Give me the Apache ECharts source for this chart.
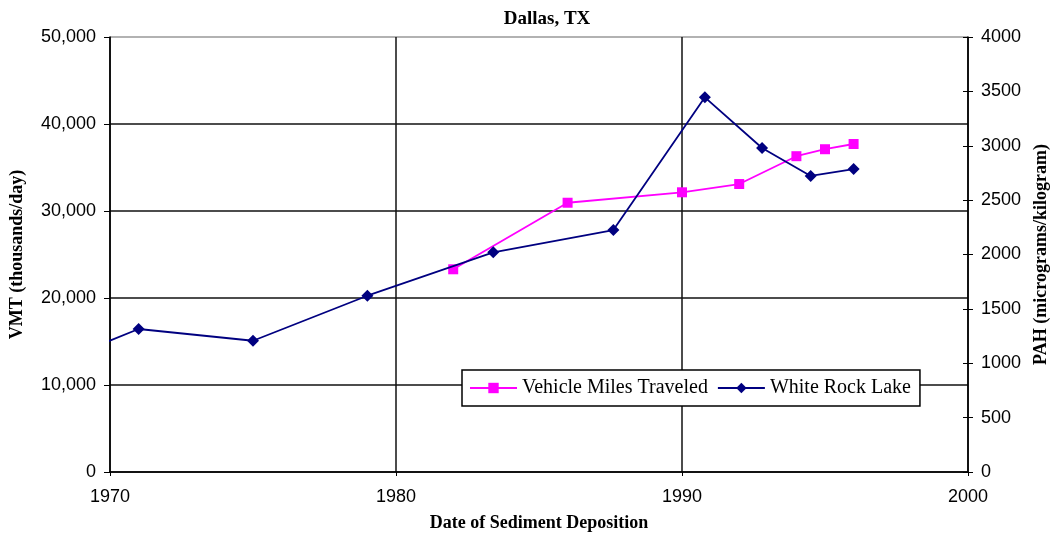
<!DOCTYPE html>
<html>
<head>
<meta charset="utf-8">
<script src="https://cdn.jsdelivr.net/npm/echarts@6/dist/echarts.min.js"></script>
<style>
html,body{margin:0;padding:0;background:#fff;}
#c{width:1051px;height:538px;}
</style>
</head>
<body>
<div id="c"></div>
<script>
var xTicks = [1970, 1980, 1990, 2000];
var vmtYears = [1982, 1986, 1990, 1992, 1994, 1995, 1996];
var vmtValues = [23300, 30950, 32150, 33100, 36300, 37100, 37700];
var pahYears = [1969, 1971, 1975, 1979, 1983.4, 1987.6, 1990.8, 1992.8, 1994.5, 1996];
var pahValues = [1100, 1315, 1207, 1621, 2020, 2225, 3445, 2979, 2722, 2786];

function pairs(xs, ys) { return xs.map(function (x, i) { return [x, ys[i]]; }); }

var sans = 'Liberation Sans';
var serif = 'Liberation Serif';
var chart = echarts.init(document.getElementById('c'));
chart.setOption({
  animation: false,
  backgroundColor: '#fff',
  title: {
    text: 'Dallas, TX',
    left: 542, top: 5, textAlign: 'center',
    textStyle: { fontFamily: serif, fontWeight: 'bold', fontSize: 19, color: '#000' }
  },
  grid: { left: 110, right: 83, top: 37, bottom: 66, containLabel: false, outerBoundsMode: 'none' },
  legend: {
    left: 462, top: 370,
    padding: [8, 9, 8, 7],
    itemWidth: 47, itemHeight: 13, itemGap: 9,
    borderColor: '#000', borderWidth: 1.5,
    backgroundColor: '#fff',
    textStyle: { fontFamily: serif, fontSize: 20, color: '#000' },
    data: ['Vehicle Miles Traveled', 'White Rock Lake']
  },
  xAxis: {
    type: 'value', min: 1970, max: 2000, interval: 10,
    name: 'Date of Sediment Deposition', nameLocation: 'middle', nameGap: 42,
    nameTextStyle: { fontFamily: serif, fontWeight: 'bold', fontSize: 18, color: '#000' },
    axisLine: { show: true, lineStyle: { color: '#000', width: 1.5 } },
    axisTick: { show: true, length: 4, lineStyle: { color: '#000' } },
    axisLabel: { margin: 16, fontFamily: sans, fontSize: 18, color: '#000',
      formatter: function (v) { return xTicks.indexOf(v) >= 0 ? String(v) : ''; } },
    splitLine: { show: true, lineStyle: { color: '#111', width: 1.5 } }
  },
  yAxis: [
    {
      type: 'value', min: 0, max: 50000, interval: 10000, position: 'left',
      name: 'VMT (thousands/day)', nameLocation: 'middle', nameGap: 84, nameRotate: 90,
      nameTextStyle: { fontFamily: serif, fontWeight: 'bold', fontSize: 18, color: '#000' },
      axisLine: { show: true, lineStyle: { color: '#000', width: 1.5 } },
      axisTick: { show: true, length: 6, lineStyle: { color: '#000' } },
      axisLabel: { margin: 14, fontFamily: sans, fontSize: 18, color: '#000',
        formatter: function (v) { return v.toLocaleString('en-US'); } },
      splitLine: { show: true, lineStyle: { color: ['#111', '#111', '#111', '#111', '#111', '#999'], width: 1.5 } }
    },
    {
      type: 'value', min: 0, max: 4000, interval: 500, position: 'right',
      name: 'PAH (micrograms/kilogram)', nameLocation: 'middle', nameGap: 64, nameRotate: 90,
      nameTextStyle: { fontFamily: serif, fontWeight: 'bold', fontSize: 18, color: '#000' },
      axisLine: { show: true, lineStyle: { color: '#000', width: 1.5 } },
      axisTick: { show: true, length: 5, lineStyle: { color: '#000' } },
      axisLabel: { margin: 13, fontFamily: sans, fontSize: 18, color: '#000',
        formatter: function (v) { return String(v); } },
      splitLine: { show: false }
    },
    {
      type: 'value', min: 0, max: 4000, interval: 500, position: 'right',
      axisLine: { show: false },
      axisTick: { show: true, inside: true, length: 5, lineStyle: { color: '#000' } },
      axisLabel: { show: false },
      splitLine: { show: false }
    }
  ],
  series: [
    {
      name: 'Vehicle Miles Traveled', type: 'line', yAxisIndex: 0,
      data: pairs(vmtYears, vmtValues),
      symbol: 'rect', symbolSize: 10,
      itemStyle: { color: '#FF00FF' },
      lineStyle: { color: '#FF00FF', width: 1.8 },
      z: 3
    },
    {
      name: 'White Rock Lake', type: 'line', yAxisIndex: 1,
      data: pairs(pahYears, pahValues),
      symbol: 'diamond', symbolSize: 12,
      itemStyle: { color: '#000080' },
      lineStyle: { color: '#000080', width: 1.8 },
      clip: true,
      z: 4
    }
  ]
});
</script>
</body>
</html>
